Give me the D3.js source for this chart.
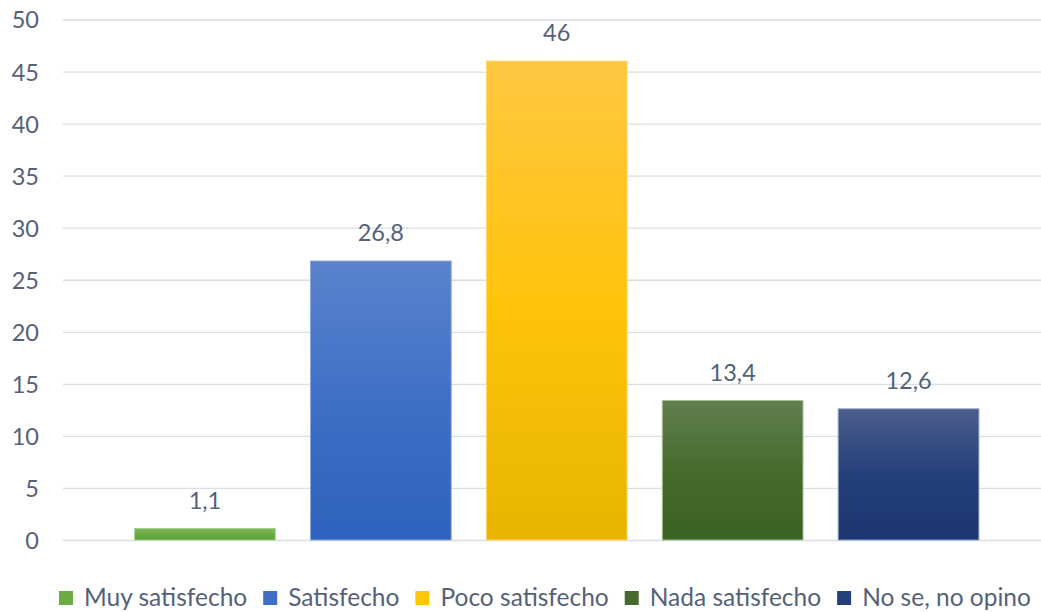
<!DOCTYPE html>
<html>
<head>
<meta charset="utf-8">
<script src="https://cdn.jsdelivr.net/npm/d3@7"></script>
<style>
  html, body { margin: 0; padding: 0; background: #ffffff; }
  svg { display: block; }
  text { font-family: Lato, "Open Sans", sans-serif; fill: #55617a; }
</style>
</head>
<body>
<svg id="chart" width="1041" height="612"></svg>
<script>
// Satisfaction survey results (percent)
const categories = ["Muy satisfecho", "Satisfecho", "Poco satisfecho", "Nada satisfecho", "No se, no opino"];
const values = [1.1, 26.8, 46, 13.4, 12.6];
const valueLabels = ["1,1", "26,8", "46", "13,4", "12,6"];
const yTicks = [0, 5, 10, 15, 20, 25, 30, 35, 40, 45, 50];

// Gradient stops per series: top, middle, bottom, outline
const palette = [
  { top: "#7cb65a", mid: "#6aab45", bot: "#5e9e38", edge: "#a9d18e" },
  { top: "#5b83cc", mid: "#3f6fc6", bot: "#2e62be", edge: "#8eaadb" },
  { top: "#ffc742", mid: "#ffc40c", bot: "#e6b500", edge: "#ffd966" },
  { top: "#627f50", mid: "#466b2c", bot: "#3b6121", edge: "#a8c095" },
  { top: "#4c5d8c", mid: "#24407a", bot: "#1b3570", edge: "#8f9fc6" }
];

const svg = d3.select("#chart");
const width = 1041;

const y = d3.scaleLinear().domain([0, 50]).range([540, 19.5]);
const x = d3.scaleBand().domain(categories).range([117, 996.5]).paddingInner(0.2).paddingOuter(0.1);

// gradients
const defs = svg.append("defs");
palette.forEach((p, i) => {
  const g = defs.append("linearGradient")
    .attr("id", "grad" + i)
    .attr("x1", 0).attr("y1", 0).attr("x2", 0).attr("y2", 1);
  g.append("stop").attr("offset", "0%").attr("stop-color", p.top);
  g.append("stop").attr("offset", "50%").attr("stop-color", p.mid);
  g.append("stop").attr("offset", "100%").attr("stop-color", p.bot);
});

// horizontal gridlines
const yAxis = d3.axisLeft(y).tickValues(yTicks).tickSize(-(width - 63)).tickPadding(24).tickFormat(d3.format("d"));
const ga = svg.append("g").attr("transform", "translate(63,0)").call(yAxis);
ga.select(".domain").remove();
ga.selectAll(".tick line").attr("stroke", "#d9dee6").attr("stroke-width", 1.3);
ga.selectAll(".tick text")
  .attr("font-size", 23.5)
  .attr("text-anchor", "end")
  .attr("x", -24)
  .attr("dy", "0.36em");

// bars
const data = categories.map((c, i) => ({ c, v: values[i], label: valueLabels[i], i }));
svg.append("g").selectAll("rect").data(data).join("rect")
  .attr("x", d => x(d.c))
  .attr("y", d => y(d.v))
  .attr("width", x.bandwidth())
  .attr("height", d => y(0) - y(d.v))
  .attr("fill", d => "url(#grad" + d.i + ")")
  .attr("stroke", d => palette[d.i].edge)
  .attr("stroke-width", 1);

// value labels
svg.append("g").selectAll("text").data(data).join("text")
  .attr("x", d => x(d.c) + x.bandwidth() / 2)
  .attr("y", d => y(d.v) - 20)
  .attr("text-anchor", "middle")
  .attr("font-size", 23.5)
  .text(d => d.label);

// legend
const legend = svg.append("g");
const items = legend.selectAll("g").data(data).join("g");
items.append("rect")
  .attr("width", 14).attr("height", 14)
  .attr("y", 591)
  .attr("fill", d => palette[d.i].mid);
items.append("text")
  .attr("x", 25)
  .attr("y", 606)
  .attr("font-size", 24.5)
  .text(d => d.c);
let cursor = 59;
items.each(function() {
  const g = d3.select(this);
  g.attr("transform", `translate(${cursor},0)`);
  const w = g.select("text").node().getComputedTextLength();
  cursor += 25 + w + 16;
});
</script>
</body>
</html>
